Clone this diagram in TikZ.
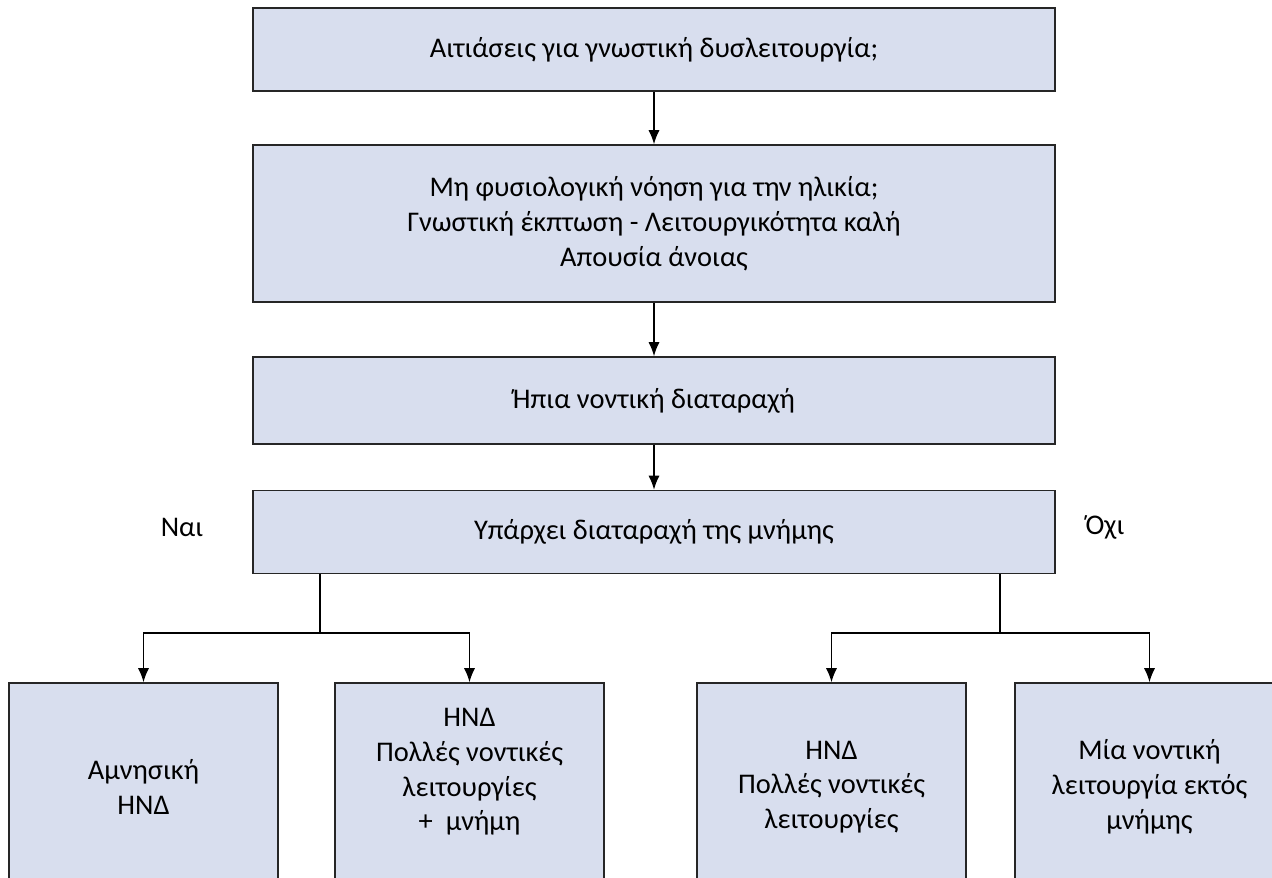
\documentclass[tikz,border=0pt]{standalone}
\usepackage{fontspec}
\setmainfont{Carlito}
\usetikzlibrary{arrows.meta}
\usetikzlibrary{positioning}
\definecolor{boxfill}{HTML}{D8DEEE}
\tikzset{box/.style = {draw = black!85, line width = 0.9pt, fill = boxfill,
                       align = center, inner sep = 0,
                       font = \fontsize{16.2}{19.8}\selectfont}}
\tikzset{conn/.style = {line width = 0.7pt, -{Latex[length = 0.28cm, width = 0.22cm]}}}
\tikzset{lbl/.style = {font = \fontsize{16.2}{19.8}\selectfont}}

\begin{document}
\begin{tikzpicture}[x = 0.02cm, y = -0.02cm]
      \useasboundingbox (0, 0) rectangle (1272, 878);
      \clip (0, 0) rectangle (1272, 878);

      \node [box, minimum width = 16.04cm, minimum height = 1.66cm] (b1) at (654, 49.5)
            {Αιτιάσεις για γνωστική δυσλειτουργία;};
      \node [box, minimum width = 16.04cm, minimum height = 3.14cm] (b2) at (654, 223.5)
            {Μη φυσιολογική νόηση για την ηλικία;\\
             Γνωστική έκπτωση - Λειτουργικότητα καλή\\
             Απουσία άνοιας};
      \node [box, minimum width = 16.04cm, minimum height = 1.74cm] (b3) at (654, 400.5)
            {Ήπια νοντική διαταραχή};
      \node [box, minimum width = 16.04cm, minimum height = 1.66cm] (b4) at (654, 532)
            {Υπάρχει διαταραχή της μνήμης};

      \node [lbl] (nai) at (182, 527) {Ναι};
      \node [lbl] (oxi) at (1105, 527) {Όχι};

      \node [box, minimum width = 5.38cm, minimum height = 4.16cm] (c1) at (143.5, 787)
            {Αμνησική\\ ΗΝΔ};
      \node [box, minimum width = 5.38cm, minimum height = 4.16cm] (c2) at (469.5, 787)
            {ΗΝΔ\\ Πολλές νοντικές\\ λειτουργίες\\ +\ \ μνήμη\\ ~};
      \node [box, minimum width = 5.38cm, minimum height = 4.16cm] (c3) at (831.5, 787)
            {ΗΝΔ\\ Πολλές νοντικές\\ λειτουργίες};
      \node [box, minimum width = 5.38cm, minimum height = 4.16cm] (c4) at (1149.5, 787)
            {Μία νοντική\\ λειτουργία εκτός\\ μνήμης};

      \draw [conn] (b1) -- (b2);
      \draw [conn] (b2) -- (b3);
      \draw [conn] (b3) -- (b4);

      \coordinate (left) at (320, 633);
      \coordinate (right) at (1000, 633);
      \draw [line width = 0.7pt] (b4.south -| left) -- (left);
      \draw [line width = 0.7pt] (b4.south -| right) -- (right);
      \draw [conn] (left) -| (c1.north);
      \draw [conn] (left) -| (c2.north);
      \draw [conn] (right) -| (c3.north);
      \draw [conn] (right) -| (c4.north);
    \end{tikzpicture}
\end{document}
